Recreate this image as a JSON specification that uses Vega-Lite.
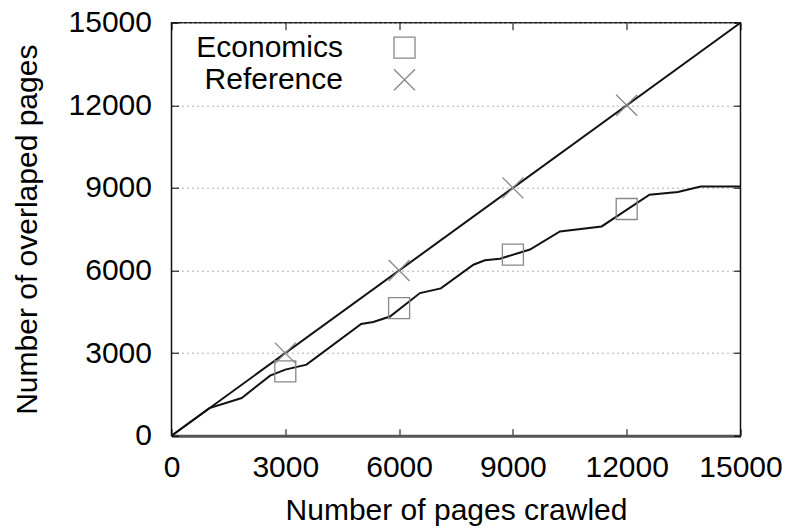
{
  "$schema": "https://vega.github.io/schema/vega-lite/v6.json",
  "width": 569,
  "height": 413,
  "autosize": {"type": "none"},
  "padding": {"left": 171.5, "top": 22.7, "right": 47.5, "bottom": 93.3},
  "background": "white",
  "datasets": {
    "economics": [
      {"pages": 0, "overlap": 0},
      {"pages": 1000, "overlap": 1000},
      {"pages": 1850, "overlap": 1370},
      {"pages": 2600, "overlap": 2180},
      {"pages": 3000, "overlap": 2400},
      {"pages": 3560, "overlap": 2580},
      {"pages": 5000, "overlap": 4060},
      {"pages": 5320, "overlap": 4130},
      {"pages": 5760, "overlap": 4330},
      {"pages": 6550, "overlap": 5180},
      {"pages": 7100, "overlap": 5350},
      {"pages": 7960, "overlap": 6210},
      {"pages": 8260, "overlap": 6370},
      {"pages": 8660, "overlap": 6430},
      {"pages": 9450, "overlap": 6760},
      {"pages": 10240, "overlap": 7420},
      {"pages": 11340, "overlap": 7600},
      {"pages": 12600, "overlap": 8750},
      {"pages": 13350, "overlap": 8850},
      {"pages": 13950, "overlap": 9050},
      {"pages": 15000, "overlap": 9050}
    ],
    "reference": [
      {"pages": 0, "overlap": 0},
      {"pages": 15000, "overlap": 15000}
    ],
    "markers": [
      {"series": "Economics", "pages": 3000, "overlap": 2335},
      {"series": "Economics", "pages": 6000, "overlap": 4637},
      {"series": "Economics", "pages": 9000, "overlap": 6574},
      {"series": "Economics", "pages": 12000, "overlap": 8233},
      {"series": "Reference", "pages": 3000, "overlap": 3000},
      {"series": "Reference", "pages": 6000, "overlap": 6000},
      {"series": "Reference", "pages": 9000, "overlap": 9000},
      {"series": "Reference", "pages": 12000, "overlap": 12000}
    ]
  },
  "layer": [
    {
      "data": {"name": "economics"},
      "mark": {"type": "line", "color": "#111", "strokeWidth": 2},
      "encoding": {
        "x": {
          "field": "pages", "type": "quantitative",
          "scale": {"domain": [0, 15000], "nice": false, "zero": true},
          "axis": {
            "orient": "bottom",
            "values": [0, 3000, 6000, 9000, 12000, 15000],
            "format": "d",
            "title": "Number of pages crawled",
            "titleFont": "Liberation Sans", "titleFontSize": 30, "titleFontWeight": "normal", "titleColor": "#000",
            "titleBaseline": "alphabetic", "titleY": 84,
            "labelFont": "Liberation Sans", "labelFontSize": 30, "labelColor": "#000",
            "labelFlush": false, "labelOverlap": false, "labelPadding": 24,
            "ticks": true, "tickSize": -7, "tickColor": "#000", "tickWidth": 1,
            "domain": true, "domainColor": "#555", "domainWidth": 3,
            "grid": false
          }
        },
        "y": {
          "field": "overlap", "type": "quantitative",
          "scale": {"domain": [0, 15000], "nice": false, "zero": true},
          "axis": {
            "orient": "left",
            "values": [0, 3000, 6000, 9000, 12000, 15000],
            "format": "d",
            "title": "Number of overlaped pages",
            "titleFont": "Liberation Sans", "titleFontSize": 30, "titleFontWeight": "normal", "titleColor": "#000",
            "titleBaseline": "alphabetic", "titleAngle": 270, "titleX": -134.8, "titleY": 206.5,
            "labelFont": "Liberation Sans", "labelFontSize": 30, "labelColor": "#000",
            "labelFlush": false, "labelOverlap": false, "labelPadding": 27,
            "ticks": true, "tickSize": -7, "tickColor": "#000", "tickWidth": 1,
            "domain": false,
            "grid": true, "gridColor": "#b0b0b0", "gridDash": [2, 3], "gridWidth": 1
          }
        }
      }
    },
    {
      "data": {"name": "reference"},
      "mark": {"type": "line", "color": "#111", "strokeWidth": 2},
      "encoding": {
        "x": {
          "field": "pages", "type": "quantitative",
          "scale": {"domain": [0, 15000], "nice": false},
          "axis": {
            "orient": "top", "values": [0, 3000, 6000, 9000, 12000, 15000],
            "labels": false, "title": null, "domain": false, "grid": false,
            "ticks": true, "tickSize": -7, "tickColor": "#000", "tickWidth": 1
          }
        },
        "y": {
          "field": "overlap", "type": "quantitative",
          "scale": {"domain": [0, 15000], "nice": false},
          "axis": {
            "orient": "right", "values": [0, 3000, 6000, 9000, 12000, 15000],
            "labels": false, "title": null, "domain": false, "grid": false,
            "ticks": true, "tickSize": -7, "tickColor": "#000", "tickWidth": 1
          }
        }
      }
    },
    {
      "data": {"name": "markers"},
      "mark": {"type": "point", "filled": false, "size": 441, "strokeWidth": 1.3, "opacity": 1, "color": "#888"},
      "encoding": {
        "x": {"field": "pages", "type": "quantitative", "axis": null},
        "y": {"field": "overlap", "type": "quantitative", "axis": null},
        "shape": {
          "field": "series", "type": "nominal",
          "scale": {"domain": ["Economics", "Reference"], "range": ["square", "M-1,-1L1,1M-1,1L1,-1"]},
          "legend": {
            "orient": "none", "legendX": 218, "legendY": 10,
            "title": null, "padding": 0, "rowPadding": 2,
            "labelFont": "Liberation Sans", "labelFontSize": 30, "labelColor": "#000",
            "labelAlign": "right", "labelOffset": -76.5, "labelLimit": 400,
            "symbolSize": 441, "symbolStrokeWidth": 1.3, "symbolStrokeColor": "#888",
            "symbolFillColor": "transparent"
          }
        }
      }
    }
  ],
  "resolve": {"axis": {"x": "independent", "y": "independent"}},
  "config": {
    "view": {"stroke": "#111", "strokeWidth": 1.5}
  }
}
